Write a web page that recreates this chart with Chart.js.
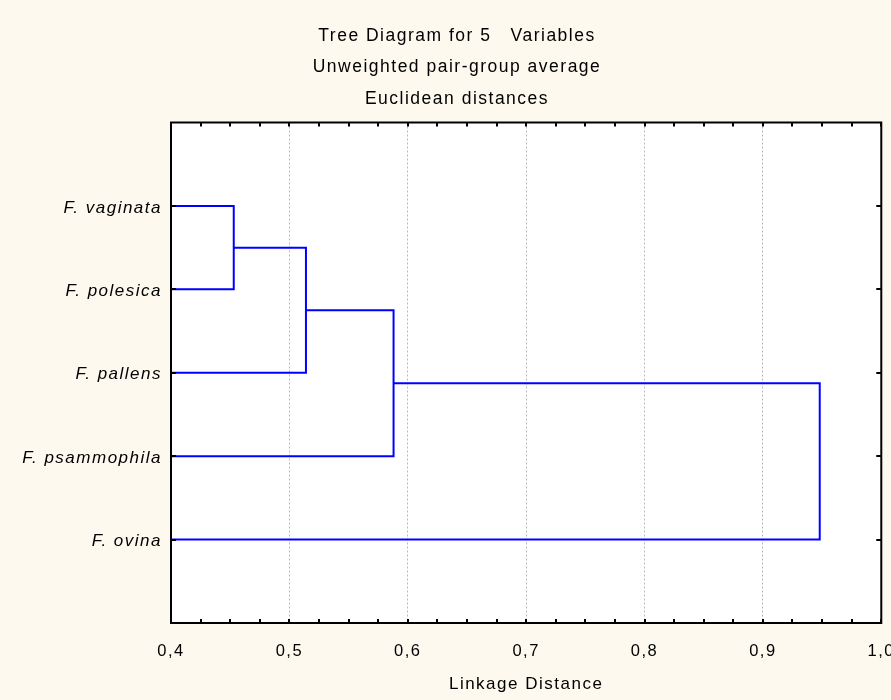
<!DOCTYPE html>
<html>
<head>
<meta charset="utf-8">
<script src="https://cdn.jsdelivr.net/npm/chart.js@4/dist/chart.umd.min.js"></script>
<style>
  html, body { margin: 0; padding: 0; background: #fdf9ee; overflow: hidden; }
  #clip { width: 891px; height: 700px; overflow: hidden; }
  #box { width: 914px; height: 700px; position: relative; }
</style>
</head>
<body>
<div id="clip"><div id="box"><canvas id="tree"></canvas></div></div>
<script>
// leaves top to bottom, then the four joins (node ids: 0-4 leaves, 5+ clusters)
const leaves = ['F. vaginata', 'F. polesica', 'F. pallens', 'F. psammophila', 'F. ovina'];
const mergeLeft = [0, 5, 6, 7];
const mergeRight = [1, 2, 3, 4];
const mergeDistances = [0.453, 0.514, 0.588, 0.948];
const distanceTicks = [0.4, 0.5, 0.6, 0.7, 0.8, 0.9, 1.0];
const titleLines = ['Tree Diagram for 5   Variables', 'Unweighted pair-group average', 'Euclidean distances'];

const FONT = "'Liberation Sans', Arial, sans-serif";
const distMin = distanceTicks[0];
const distMax = distanceTicks[distanceTicks.length - 1];

// walk the joins and turn each one into a bracket polyline
const nodeX = leaves.map(() => distMin);
const nodeY = leaves.map((_, i) => i + 1);
const links = mergeDistances.map((d, k) => {
  const a = mergeLeft[k], b = mergeRight[k];
  const pts = [
    { x: nodeX[a], y: nodeY[a] },
    { x: d, y: nodeY[a] },
    { x: d, y: nodeY[b] },
    { x: nodeX[b], y: nodeY[b] },
  ];
  nodeX.push(d);
  nodeY.push((nodeY[a] + nodeY[b]) / 2);
  return pts;
});

// wide-set lettering, like the old stats package output
const spacing = {
  id: 'spacing',
  beforeUpdate(chart) { chart.ctx.letterSpacing = '1.5px'; },
  beforeDraw(chart) { chart.ctx.letterSpacing = '1.5px'; },
};

const frame = {
  id: 'frame',
  beforeDraw(chart) {
    const { ctx, chartArea: a } = chart;
    ctx.save();
    ctx.fillStyle = '#ffffff';
    ctx.fillRect(a.left, a.top, a.right - a.left, a.bottom - a.top);
    ctx.restore();
  },
  afterDraw(chart) {
    const { ctx, chartArea: a, scales: { x, y } } = chart;
    ctx.save();
    ctx.strokeStyle = '#000';
    ctx.lineWidth = 2;
    ctx.strokeRect(a.left, a.top, a.right - a.left, a.bottom - a.top);
    ctx.beginPath();
    const minorStep = 0.025;
    const n = Math.round((distMax - distMin) / minorStep);
    for (let i = 0; i <= n; i++) {
      const px = Math.round(x.getPixelForValue(distMin + i * minorStep));
      ctx.moveTo(px, a.top); ctx.lineTo(px, a.top + 4);
      ctx.moveTo(px, a.bottom); ctx.lineTo(px, a.bottom - 4);
    }
    y.ticks.forEach(t => {
      const py = Math.round(y.getPixelForValue(t.value));
      ctx.moveTo(a.left, py); ctx.lineTo(a.left + 5, py);
      ctx.moveTo(a.right, py); ctx.lineTo(a.right - 5, py);
    });
    ctx.stroke();
    ctx.restore();
  }
};

new Chart(document.getElementById('tree'), {
  type: 'scatter',
  data: {
    datasets: links.map(pts => ({
      data: pts,
      showLine: true,
      borderColor: '#0000ff',
      borderWidth: 2,
      pointRadius: 0,
      pointHoverRadius: 0,
      tension: 0,
    })),
  },
  options: {
    responsive: true,
    maintainAspectRatio: false,
    animation: false,
    layout: { padding: 0 },
    plugins: {
      legend: { display: false },
      tooltip: { enabled: false },
      title: {
        display: true,
        text: titleLines,
        color: '#000',
        font: { family: FONT, size: 17.5, weight: 'normal', lineHeight: 1.8 },
        padding: { top: 20, bottom: 8 },
      },
    },
    scales: {
      x: {
        type: 'linear',
        min: distMin,
        max: distMax,
        afterBuildTicks: s => { s.ticks = distanceTicks.map(v => ({ value: v })); },
        afterFit: s => { s.height = 77; },
        ticks: {
          color: '#000',
          padding: 19,
          font: { family: FONT, size: 16.5 },
          callback: v => v.toFixed(1).replace('.', ','),
        },
        grid: {
          drawTicks: false,
          lineWidth: 1,
          color: c => (c.tick && c.tick.value > distMin + 0.01 && c.tick.value < distMax - 0.01) ? '#b9b9b9' : 'rgba(0,0,0,0)',
        },
        border: { display: false, dash: [2, 2] },
        title: {
          display: true,
          text: 'Linkage Distance',
          color: '#000',
          font: { family: FONT, size: 17 },
          padding: { top: 0, bottom: 5 },
        },
      },
      y: {
        type: 'linear',
        min: 0,
        max: leaves.length + 1,
        reverse: true,
        afterBuildTicks: s => { s.ticks = leaves.map((_, i) => ({ value: i + 1 })); },
        afterFit: s => { s.width = 171; },
        ticks: {
          color: '#000',
          padding: 9,
          labelOffset: 2,
          font: { family: FONT, size: 17, style: 'italic' },
          callback: v => leaves[Math.round(v) - 1],
        },
        grid: { display: false, drawTicks: false },
        border: { display: false },
      },
      // empty strip on the right so the plot stops short of the edge
      gutter: {
        type: 'linear',
        axis: 'y',
        position: 'right',
        afterFit: s => { s.width = 30; },
        ticks: { display: false },
        grid: { display: false, drawTicks: false },
        border: { display: false },
      },
    },
  },
  plugins: [spacing, frame],
});
</script>
</body>
</html>
